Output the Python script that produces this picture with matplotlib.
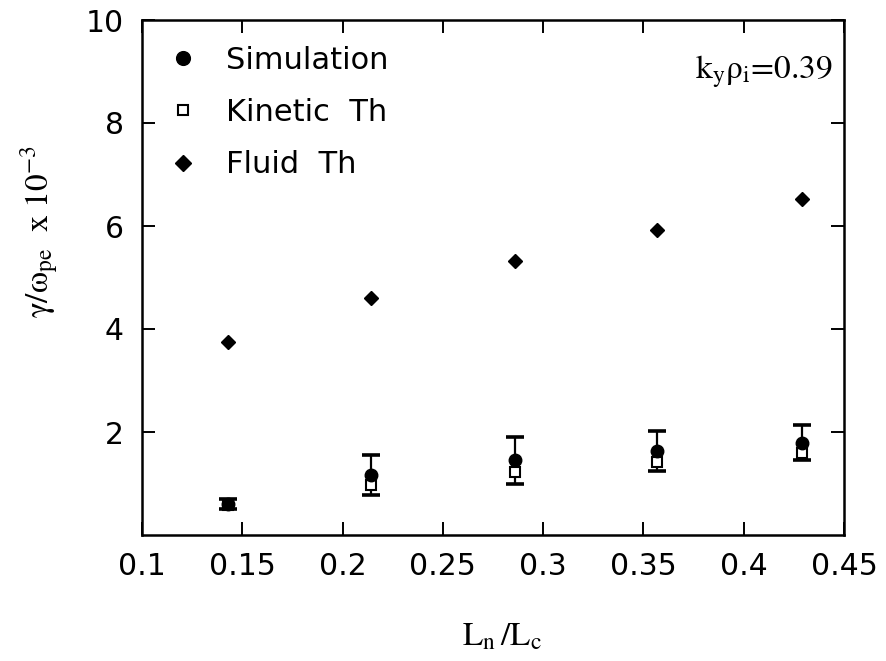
import matplotlib
matplotlib.use("Agg")
import matplotlib.pyplot as plt

plt.rcParams["font.family"] = ["DejaVu Sans"]
plt.rcParams["mathtext.fontset"] = "stix"

# Gradient-length ratio L_n/L_c for each run
ratio = [0.143, 0.214, 0.286, 0.357, 0.429]
# Growth rates (units of 10^-3 omega_pe)
simulation = [0.60, 1.17, 1.45, 1.63, 1.79]
simulation_err = [0.09, 0.39, 0.45, 0.38, 0.34]
kinetic_th = [0.58, 0.97, 1.23, 1.42, 1.59]
fluid_th = [3.75, 4.60, 5.33, 5.93, 6.53]

xticks = [0.1, 0.15, 0.2, 0.25, 0.3, 0.35, 0.4, 0.45]
xtick_labels = ["0.1", "0.15", "0.2", "0.25", "0.3", "0.35", "0.4", "0.45"]
yticks = [2, 4, 6, 8, 10]
ytick_labels = ["2", "4", "6", "8", "10"]

W, H = 886, 661
fig = plt.figure(figsize=(W / 100, H / 100), dpi=100)
ax = fig.add_axes([142 / W, 1 - 535 / H, 702 / W, 515 / H])

ax.errorbar(ratio, simulation, yerr=simulation_err, fmt="none", ecolor="black",
            elinewidth=1.6, capsize=6.5, capthick=2.6, zorder=2)
ax.plot(ratio, kinetic_th, linestyle="none", marker="s", markersize=7,
        markerfacecolor="white", markeredgecolor="black", markeredgewidth=1.5,
        zorder=3, label="Kinetic  Th")
ax.plot(ratio, simulation, linestyle="none", marker="o", markersize=9,
        color="black", zorder=4, label="Simulation")
ax.plot(ratio, fluid_th, linestyle="none", marker="D", markersize=7.5,
        color="black", zorder=4, label="Fluid  Th")

ax.set_xlim(0.1, 0.45)
ax.set_ylim(0, 10)
ax.set_xticks(xticks)
ax.set_xticklabels(xtick_labels)
ax.set_yticks(yticks)
ax.set_yticklabels(ytick_labels)
ax.tick_params(direction="in", length=9.5, width=1.4, top=True, right=True,
               labelsize=21.5, colors="black")
ax.tick_params(axis="x", pad=12)
ax.tick_params(axis="y", pad=13)
for sp in ax.spines.values():
    sp.set_linewidth(1.8)

handles, labels = ax.get_legend_handles_labels()
order = [labels.index("Simulation"), labels.index("Kinetic  Th"), labels.index("Fluid  Th")]
ax.legend([handles[i] for i in order], [labels[i] for i in order],
          loc="upper left", bbox_to_anchor=(0.05, 0.95), frameon=False,
          fontsize=22, handlelength=0.4, handletextpad=1.2, labelspacing=0.76,
          borderaxespad=0, borderpad=0, markerscale=1.1)

ax.text(0.983, 0.887, r"$\mathrm{k_y\rho_i}$=0.39", transform=ax.transAxes,
        ha="right", va="baseline", fontsize=24, family="STIXGeneral")

fig.text(40 / W, 1 - 318 / H,
         r"$\mathrm{\gamma/\omega_{pe}}\ \ \mathrm{x}\ \mathrm{10^{-3}}$",
         rotation=90, rotation_mode="anchor", ha="left", va="center", fontsize=24)
fig.text(462 / W, 1 - 645 / H, r"$\mathrm{L_{n}\,/L_{c}}$", ha="left", va="baseline",
         fontsize=24)

fig.savefig("out.png", dpi=100)
